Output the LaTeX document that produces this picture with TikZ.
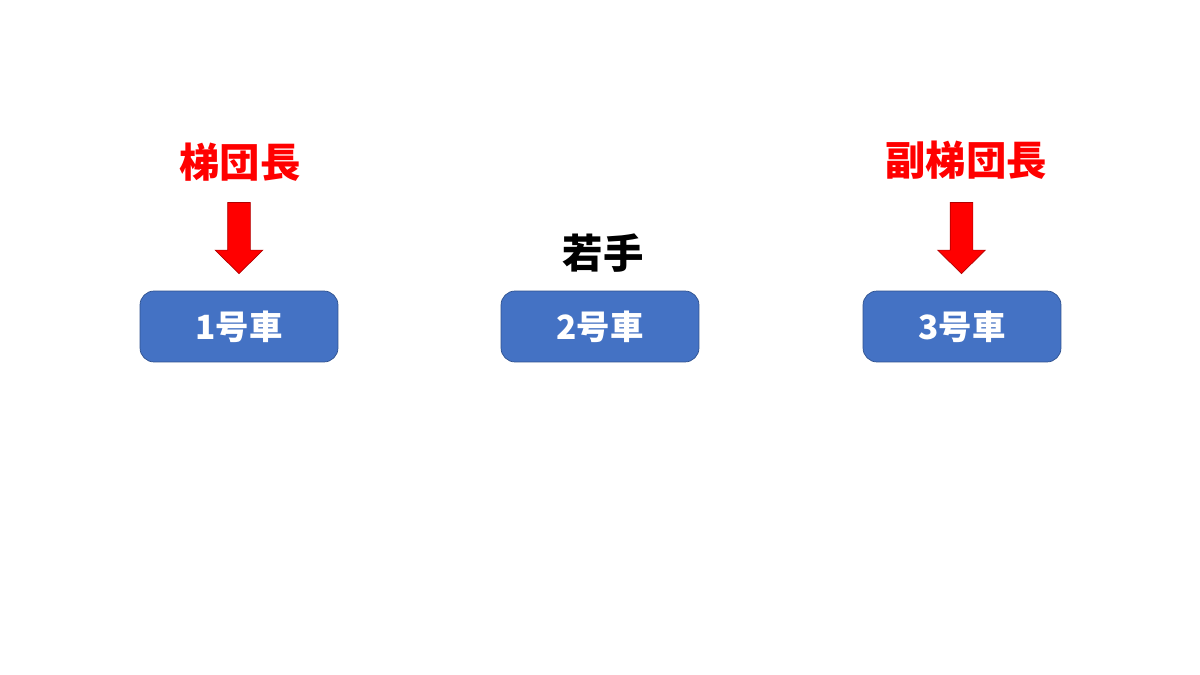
\documentclass[tikz,border=0pt]{standalone}
\usepackage{fontspec}
\newfontfamily\cjk{Noto Sans CJK JP}
\usetikzlibrary{
  shapes.arrows, % for the block arrows
  positioning % for relative placement of the labels
}
\definecolor{carblue}{HTML}{4472C4}
\definecolor{carline}{HTML}{2F528F}
\definecolor{arrowline}{HTML}{B00000}
\tikzset{
  car/.style={ % style for each car
    rectangle,rounded corners=8pt,draw=carline,fill=carblue,thin,
    minimum width=3.96cm,minimum height=1.42cm, % same size for every car
    text=white,font=\cjk\bfseries\fontsize{19}{19}\selectfont,
  },
  role/.style={ % style for the role labels
    text=red,font=\cjk\bfseries\fontsize{23}{23}\selectfont,inner sep=0pt,
  },
  pointer/.style={ % style for the red block arrows
    single arrow,draw=arrowline,fill=red,thin,
    inner xsep=0.22cm,inner ysep=0pt, % shaft width
    minimum height=1.42cm, % total length
    single arrow head extend=0.25cm,single arrow tip angle=91,
    shape border rotate=270, % pointing down
  },
}
\begin{document}
\begin{tikzpicture}[x=0.02cm,y=-0.02cm]
\useasboundingbox[fill=white] (0,0) rectangle (1200,675);
\node[car] (car1) at (239,326.5) {1号車};
\node[car] (car2) at (600,326.5) {2号車};
\node[car] (car3) at (962,326.5) {3号車};
\node[pointer] (arr1) at (239,232.5) {};
\node[pointer] (arr3) at (961.5,232.5) {};
\node[role] (lead) at (240,162) {梯団長};
\node[role] (sublead) at (966,160) {副梯団長};
\node[role,text=black] (young) at (603,253) {若手};
\end{tikzpicture}
\end{document}
